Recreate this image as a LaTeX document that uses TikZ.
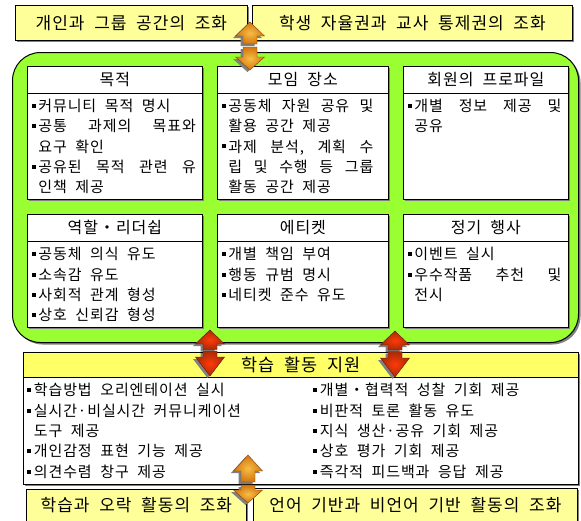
\documentclass[tikz,border=0pt]{standalone}
\usepackage{fontspec}
\setmainfont{Noto Sans CJK KR}[LetterSpace=6,WordSpace=2]
\usetikzlibrary{shadows}
\definecolor{ltyel}{HTML}{FFFF99}
\definecolor{hdyel}{HTML}{FFFF66}
\definecolor{grn}{HTML}{99FF33}
\definecolor{shd}{HTML}{808080}
\definecolor{orin}{HTML}{F6BE45}
\definecolor{orout}{HTML}{D4740E}
\definecolor{rdin}{HTML}{FF3A0A}
\definecolor{rdout}{HTML}{A82A06}
\newcommand\bu{\makebox[6.5pt][l]{\raisebox{3.6pt}{\rule{4pt}{4pt}}}}
\newcommand\ind{\hspace*{6.5pt}}
\newcommand\fl{\rule{0pt}{18.3pt}}
\newcommand\bt[4]{\parbox[c][#2pt][t]{#1pt}{\leftskip=4.5pt\rightskip=#3pt\relax\fl #4}}
\newcommand\arrpart[6]{%
  \fill[shd,shift={(-2.5,2)}] (#1,#2) -- ({#1+14.5},#3) -- ({#1+7},#3) -- ({#1+7},#4) -- ({#1-7},#4) -- ({#1-7},#3) -- ({#1-14.5},#3) -- cycle;
  \shadedraw[inner color=#5,outer color=#6,draw=#6!60!black,line width=0.4pt] (#1,#2) -- ({#1+14.5},#3) -- ({#1+7},#3) -- ({#1+7},#4) -- ({#1-7},#4) -- ({#1-7},#3) -- ({#1-14.5},#3) -- cycle;
}
\begin{document}
\begin{tikzpicture}[x=1pt,y=-1pt,
  sh/.style={drop shadow={shadow xshift=2pt,shadow yshift=-2pt,fill=shd,opacity=1}},
  cell/.style={draw=black,line width=0.8pt,fill=white,anchor=north west,inner sep=0pt,sh},
  ttl/.style={cell,fill=ltyel,font=\fontsize{17}{20}\selectfont},
  hdr/.style={cell,font=\fontsize{16}{18}\selectfont},
  bdy/.style={cell,font=\fontsize{15}{20.4}\selectfont},
]
\clip (0,0) rectangle (581,520);
\fill[white] (0,0) rectangle (581,520);
% top titles
\node[ttl,minimum width=232pt,minimum height=35pt] (t1) at (15,5) {개인과 그룹 공간의 조화};
\node[ttl,minimum width=320pt,minimum height=35pt] (t2) at (252,5) {학생 자율권과 교사 통제권의 조화};
% green panel
\node[draw=black,line width=1pt,fill=grn,rounded corners=28pt,anchor=north west,minimum width=566pt,minimum height=290pt,inner sep=0pt,sh] (panel) at (12,52) {};
% row 1
\node[hdr,minimum width=175pt,minimum height=26.5pt] (h1) at (27,66) {목적};
\node[bdy,minimum width=175pt,minimum height=106.5pt] (b1) at (27,92.5) {\bt{175}{106.5}{6.5}{\bu 커뮤니티 목적 명시\\ \bu 공통\hfill 과제의\hfill 목표와\\ \ind 요구 확인\\ \bu 공유된\hfill 목적\hfill 관련\hfill 유\\ \ind 인책 제공}};
\node[hdr,minimum width=171pt,minimum height=26.5pt] (h2) at (217,66) {모임 장소};
\node[bdy,minimum width=171pt,minimum height=106.5pt] (b2) at (217,92.5) {\bt{171}{106.5}{15}{\bu 공동체\hfill 자원\hfill 공유\hfill 및\\ \ind 활용 공간 제공\\ \bu 과제\hfill 분석,\hfill 계획\hfill 수\\ \ind 립\hfill 및\hfill 수행\hfill 등\hfill 그룹\\ \ind 활동 공간 제공}};
\node[hdr,minimum width=165pt,minimum height=26.5pt] (h3) at (403,66) {회원의 프로파일};
\node[bdy,minimum width=165pt,minimum height=106.5pt] (b3) at (403,92.5) {\bt{165}{106.5}{7}{\bu 개별\hfill 정보\hfill 제공\hfill 및\\ \ind 공유}};
% row 2
\node[hdr,minimum width=175pt,minimum height=27pt] (h4) at (27,214) {역할・리더쉽};
\node[bdy,minimum width=175pt,minimum height=86pt] (b4) at (27,241) {\bt{175}{86}{6.5}{\bu 공동체 의식 유도\\ \bu 소속감 유도\\ \bu 사회적 관계 형성\\ \bu 상호 신뢰감 형성}};
\node[hdr,minimum width=171pt,minimum height=27pt] (h5) at (217,214) {에티켓};
\node[bdy,minimum width=171pt,minimum height=86pt] (b5) at (217,241) {\bt{171}{86}{15}{\bu 개별 책임 부여\\ \bu 행동 규범 명시\\ \bu 네티켓 준수 유도}};
\node[hdr,minimum width=165pt,minimum height=27pt] (h6) at (403,214) {정기 행사};
\node[bdy,minimum width=165pt,minimum height=86pt] (b6) at (403,241) {\bt{165}{86}{7}{\bu 이벤트 실시\\ \bu 우수작품\hfill 추천\hfill 및\\ \ind 전시}};
% support panel
\node[cell,fill=hdyel,minimum width=555pt,minimum height=25pt,font=\fontsize{17.5}{20}\selectfont] (sh) at (23,352) {학습 활동 지원};
\node[bdy,minimum width=555pt,minimum height=107pt] (sb) at (23,377) {\parbox[c][107pt][t]{555pt}{\hspace*{4pt}%
\begin{minipage}[t]{286pt}\fl\bu 학습방법 오리엔테이션 실시\\ \bu 실시간·비실시간 커뮤니케이션\\ \ind 도구 제공\\ \bu 개인감정 표현 기능 제공\\ \bu 의견수렴 창구 제공\end{minipage}%
\begin{minipage}[t]{265pt}\fl\bu 개별・협력적 성찰 기회 제공\\ \bu 비판적 토론 활동 유도\\ \bu 지식 생산·공유 기회 제공\\ \bu 상호 평가 기회 제공\\ \bu 즉각적 피드백과 응답 제공\end{minipage}}};
% bottom titles
\node[ttl,minimum width=220pt,minimum height=32pt] (l1) at (26,489) {학습과 오락 활동의 조화};
\node[ttl,minimum width=324pt,minimum height=34pt] (l2) at (253,488) {언어 기반과 비언어 기반 활동의 조화};
% arrows
\arrpart{250}{22}{36}{44}{orin}{orout}
\arrpart{250}{70}{57}{47}{orin}{orout}
\arrpart{210}{330}{344}{349.5}{rdin}{rdout}
\arrpart{210}{376}{357}{351}{rdin}{rdout}
\arrpart{395}{331}{345}{350}{rdin}{rdout}
\arrpart{395}{377}{358}{351.5}{rdin}{rdout}
\arrpart{248}{455}{471}{482}{orin}{orout}
\arrpart{248}{503}{490}{485}{orin}{orout}
\end{tikzpicture}
\end{document}
